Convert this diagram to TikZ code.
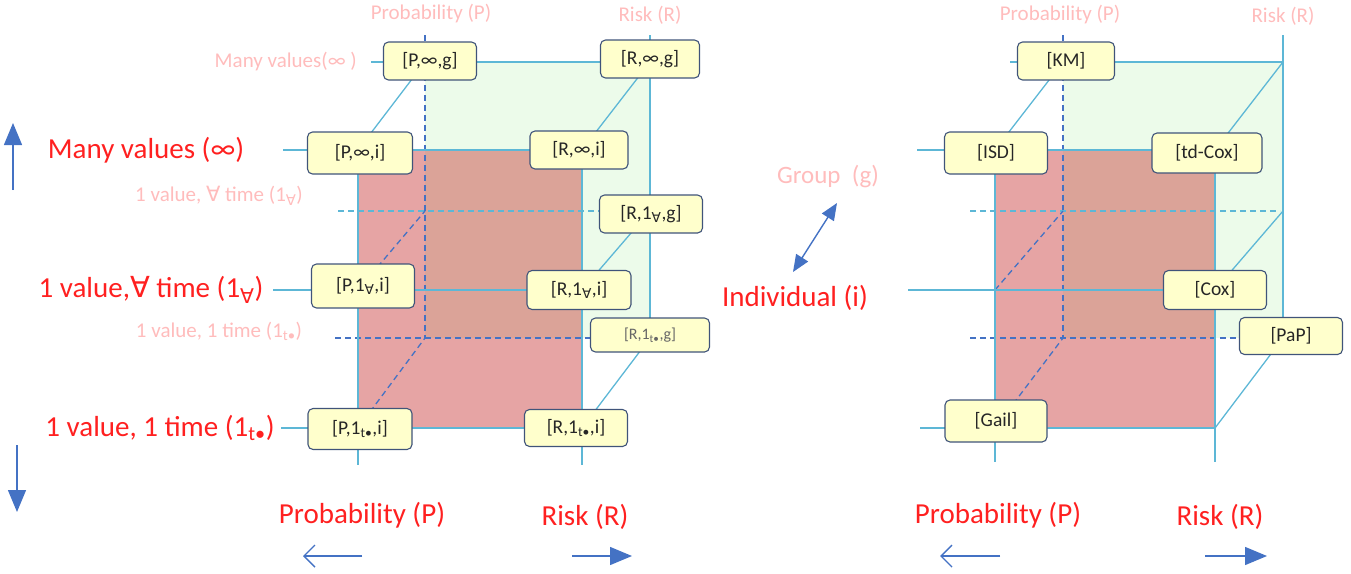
\documentclass[tikz,border=0pt]{standalone}
\usepackage{fontspec}
\setmainfont{Carlito}
\newfontfamily\symf{DejaVu Sans}
\usetikzlibrary{arrows.meta}
\definecolor{lblue}{RGB}{93,183,214}
\definecolor{dblue}{RGB}{68,114,196}
\definecolor{pinkface}{RGB}{230,164,164}
\definecolor{overlapc}{RGB}{219,163,152}
\definecolor{greenface}{RGB}{236,251,234}
\definecolor{nodefill}{RGB}{255,255,204}
\definecolor{nodeborder}{RGB}{64,84,122}
\definecolor{lightred}{RGB}{255,188,188}
\definecolor{strongred}{RGB}{255,32,32}
\newcommand{\fa}{{\symf ∀}}
\newcommand{\tb}{t\textbullet}
\tikzset{
  box/.style={draw=nodeborder, fill=nodefill, rounded corners=5pt, line width=1.1pt,
    minimum height=38pt, minimum width=100pt, inner sep=2pt, text=black!85,
    font=\fontsize{19.5}{21}\selectfont},
  edgeln/.style={draw=lblue, line width=1.3pt},
  hid/.style={draw=dblue, line width=1.3pt, dash pattern=on 6pt off 4pt},
  hidl/.style={draw=lblue, line width=1.3pt, dash pattern=on 6pt off 4pt},
  biglab/.style={text=strongred, font=\fontsize{29}{32}\selectfont, inner sep=0pt},
  faintlab/.style={text=lightred, font=\fontsize{21}{24}\selectfont, inner sep=0pt},
  arr/.style={draw=dblue, fill=dblue, line width=1.4pt},
  tri/.style={-{Triangle[length=22pt,width=18pt]}},
  barb/.style={-{Straight Barb[length=11pt,width=22pt]}},
}
\begin{document}
\begin{tikzpicture}[x=1pt,y=-1pt]
\useasboundingbox (0,0) rectangle (1351,573);

% ---------- LEFT CUBE ----------
\fill[greenface] (425,62) rectangle (650,338);
\fill[pinkface] (358,150) rectangle (582,428);
\fill[overlapc] (425,150) rectangle (582,338);

\coordinate (lFTL) at (358,150); \coordinate (lFTR) at (582,150);
\coordinate (lFML) at (358,290); \coordinate (lFMR) at (582,290);
\coordinate (lFBL) at (358,428); \coordinate (lFBR) at (582,428);
\coordinate (lBTL) at (425,62);  \coordinate (lBTR) at (650,62);
\coordinate (lBML) at (425,211); \coordinate (lBMR) at (650,211);
\coordinate (lBBL) at (425,338); \coordinate (lBBR) at (650,338);
\coordinate (lBTLup) at (425,35); \coordinate (lBTRup) at (650,35);
\coordinate (lBRdown) at (650,320);
\coordinate (lFLdown) at (358,465); \coordinate (lFRdown) at (582,465);
\coordinate (lstub1) at (371,62); \coordinate (lstub2) at (283,150);
\coordinate (lstub3) at (273,290); \coordinate (lstub4) at (281,428);
\coordinate (lstub5) at (338,211); \coordinate (lstub5e) at (600,211);
\coordinate (lstub6) at (335,338); \coordinate (lstub6e) at (591,338);

\draw[hid] (lBTLup) -- (lBBL);
\draw[hid] (lstub6) -- (lstub6e);
\draw[hidl] (lstub5) -- (lstub5e);
\draw[hid] (lFML) -- (lBML);
\draw[hid] (lFBL) -- (lBBL);
\draw[edgeln] (lstub1) -- (lBTR);
\draw[edgeln] (lBTRup) -- (lBRdown);
\draw[edgeln] (lstub2) -- (lFTR);
\draw[edgeln] (lstub3) -- (lFMR);
\draw[edgeln] (lstub4) -- (lFBR);
\draw[edgeln] (lFTL) -- (lFLdown);
\draw[edgeln] (lFTR) -- (lFRdown);
\draw[edgeln] (lFTL) -- (lBTL);
\draw[edgeln] (lFTR) -- (lBTR);
\draw[edgeln] (lFMR) -- (lBMR);
\draw[edgeln] (lFBR) -- (lBBR);

\node[box, minimum width=93pt] (Pinfg) at (430,61) {[P,∞,g]};
\node[box, minimum width=99pt] (Rinfg) at (650,59) {[R,∞,g]};
\node[box, minimum width=105pt, minimum height=42pt] (Pinfi) at (360,153) {[P,∞,i]};
\node[box, minimum width=98pt] (Rinfi) at (579,150) {[R,∞,i]};
\node[box, minimum width=103pt] (Ralg) at (651,214) {[R,1\textsubscript{\fa},g]};
\node[box, minimum width=103pt, minimum height=44pt] (Pali) at (363,286) {[P,1\textsubscript{\fa},i]};
\node[box, minimum width=104pt, minimum height=39pt] (Rali) at (579,290) {[R,1\textsubscript{\fa},i]};
\node[box, minimum width=119pt, minimum height=34pt, text=black!60, font=\fontsize{16}{18}\selectfont] (Rotg) at (650,335) {[R,1\textsubscript{\tb},g]};
\node[box, minimum width=104pt, minimum height=41pt] (Poti) at (360,429) {[P,1\textsubscript{\tb},i]};
\node[box, minimum width=103pt, minimum height=37pt] (Roti) at (576,428) {[R,1\textsubscript{\tb},i]};

% left labels
\node[faintlab] (lPtop) at (431,14) {Probability (P)};
\node[faintlab] (lRtop) at (650,15) {Risk (R)};
\node[faintlab, anchor=east] (lMvg) at (357,62) {Many values(∞ )};
\node[faintlab] (lAvg) at (219,196) {1 value, \fa\ time (1\textsubscript{\fa})};
\node[faintlab] (lOtg) at (219,331) {1 value, 1 time (1\textsubscript{\tb})};
\node[biglab] (lMv) at (146,150) {Many values (∞)};
\node[biglab] (lAv) at (151,290) {1 value,\fa\ time (1\textsubscript{\fa})};
\node[biglab] (lOt) at (160,428) {1 value, 1 time (1\textsubscript{\tb})};
\node[biglab] (lPbot) at (362,515) {Probability (P)};
\node[biglab] (lRbot) at (585,517) {Risk (R)};

\coordinate (upA) at (13,190); \coordinate (upB) at (13,123);
\coordinate (dnA) at (17,445); \coordinate (dnB) at (17,512);
\draw[arr, tri] (upA) -- (upB);
\draw[arr, tri] (dnA) -- (dnB);
\coordinate (lpA) at (362,556); \coordinate (lpB) at (303,556);
\coordinate (lrA) at (572,556); \coordinate (lrB) at (632,556);
\draw[arr, barb] (lpA) -- (lpB);
\draw[arr, tri] (lrA) -- (lrB);

% ---------- RIGHT CUBE ----------
\fill[greenface] (1063,62) rectangle (1283,338);
\fill[pinkface] (995,150) rectangle (1215,428);
\fill[overlapc] (1063,150) rectangle (1215,338);

\coordinate (rFTL) at (995,150); \coordinate (rFTR) at (1215,150);
\coordinate (rFML) at (995,290); \coordinate (rFMR) at (1215,290);
\coordinate (rFBL) at (995,428); \coordinate (rFBR) at (1215,428);
\coordinate (rBTL) at (1063,62);  \coordinate (rBTR) at (1283,62);
\coordinate (rBML) at (1063,211); \coordinate (rBMR) at (1283,211);
\coordinate (rBBL) at (1063,338); \coordinate (rBBR) at (1283,338);
\coordinate (rBTLup) at (1063,35); \coordinate (rBTRup) at (1283,35);
\coordinate (rBRdown) at (1283,320);
\coordinate (rFLdown) at (995,462); \coordinate (rFRdown) at (1215,462);
\coordinate (rstub1) at (1010,62); \coordinate (rstub2) at (917,150);
\coordinate (rstub3) at (908,290); \coordinate (rstub4) at (920,428);
\coordinate (rstub5) at (970,211); \coordinate (rstub5e) at (1280,211);
\coordinate (rstub6) at (970,338); \coordinate (rstub6e) at (1240,338);

\draw[hid] (rBTLup) -- (rBBL);
\draw[hid] (rstub6) -- (rstub6e);
\draw[hidl] (rstub5) -- (rstub5e);
\draw[hid] (rFML) -- (rBML);
\draw[hid] (rFBL) -- (rBBL);
\draw[edgeln] (rstub1) -- (rBTR);
\draw[edgeln] (rBTRup) -- (rBRdown);
\draw[edgeln] (rstub2) -- (rFTR);
\draw[edgeln] (rstub3) -- (rFMR);
\draw[edgeln] (rstub4) -- (rFBR);
\draw[edgeln] (rFTL) -- (rFLdown);
\draw[edgeln] (rFTR) -- (rFRdown);
\draw[edgeln] (rFTL) -- (rBTL);
\draw[edgeln] (rFTR) -- (rBTR);
\draw[edgeln] (rFMR) -- (rBMR);
\draw[edgeln] (rFBR) -- (rBBR);

\node[box, minimum width=97pt] (KM) at (1066,61) {[KM]};
\node[box, minimum width=103pt, minimum height=42pt] (ISD) at (996,153) {[ISD]};
\node[box, minimum width=110pt, minimum height=40pt] (tdCox) at (1207,153) {[td-Cox]};
\node[box, minimum width=103pt, minimum height=39pt] (Cox) at (1215,290) {[Cox]};
\node[box, minimum width=103pt, minimum height=37pt] (PaP) at (1291,336) {[PaP]};
\node[box, minimum width=102pt, minimum height=42pt] (Gail) at (996,421) {[Gail]};

\node[faintlab] (rPtop) at (1060,15) {Probability (P)};
\node[faintlab] (rRtop) at (1283,16) {Risk (R)};
\node[faintlab, font=\fontsize{25}{27}\selectfont] (grp) at (828,177) {Group\ \ (g)};
\node[biglab] (ind) at (795,298) {Individual (i)};
\node[biglab] (rPbot) at (998,515) {Probability (P)};
\node[biglab] (rRbot) at (1220,517) {Risk (R)};

\coordinate (dA) at (793,272); \coordinate (dB) at (837,203);
\draw[arr, {Triangle[length=17pt,width=14pt]}-{Triangle[length=17pt,width=14pt]}] (dA) -- (dB);
\coordinate (rpA) at (1000,556); \coordinate (rpB) at (940,556);
\coordinate (rrA) at (1205,556); \coordinate (rrB) at (1267,556);
\draw[arr, barb] (rpA) -- (rpB);
\draw[arr, tri] (rrA) -- (rrB);
\end{tikzpicture}
\end{document}
